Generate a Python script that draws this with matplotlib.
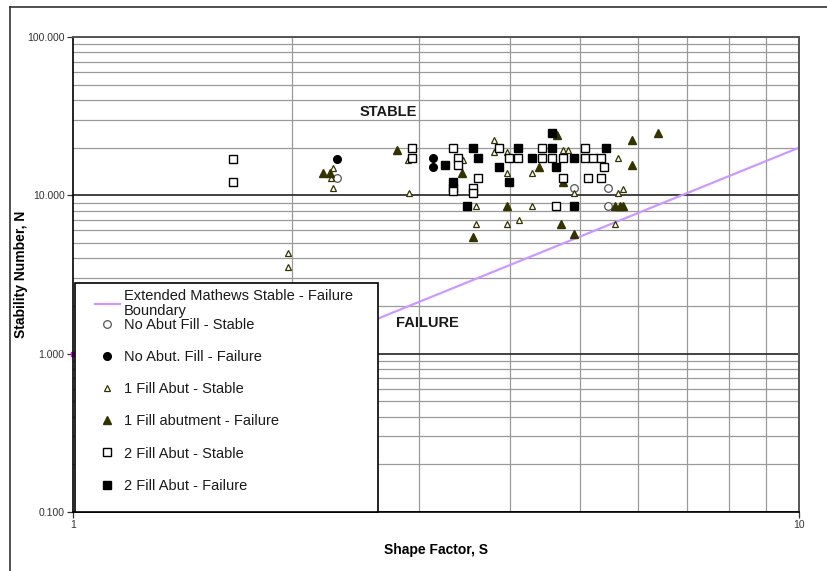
import matplotlib
matplotlib.use("Agg")
import matplotlib.pyplot as plt
from matplotlib.patches import Rectangle
from matplotlib.lines import Line2D
from matplotlib.ticker import FixedLocator, FixedFormatter, NullFormatter

plt.rcParams['font.family'] = ['Liberation Sans', 'DejaVu Sans']

# Extended Mathews stable - failure boundary
boundary_s = [2.0, 10.0]
boundary_n = [1.0, 20.0]

# No abutment fill
no_fill_stable_s = [2.31, 4.90, 5.46, 5.46]
no_fill_stable_n = [12.9, 11.2, 11.2, 8.6]
no_fill_failure_s = [2.31, 3.13, 3.13]
no_fill_failure_n = [16.9, 17.1, 15.0]

# 1 fill abutment
one_fill_stable_s = [1.98, 1.98, 2.28, 2.27, 2.28, 2.89, 2.90, 3.45, 3.59, 3.59, 3.80, 3.80, 3.96,
                     3.96, 3.96, 4.12, 4.29, 4.29, 4.73, 4.80, 4.90, 5.63, 5.63, 5.73, 5.58]
one_fill_stable_n = [4.31, 3.51, 14.8, 12.9, 11.2, 16.7, 10.4, 16.7, 8.6, 6.6, 22.4, 18.7, 18.7,
                     13.9, 6.6, 6.95, 13.9, 8.6, 19.4, 19.4, 10.4, 17.1, 10.4, 11.0, 6.6]
one_fill_failure_s = [2.21, 2.26, 2.79, 3.43, 3.56, 3.96, 4.39, 4.64, 4.73, 4.70, 4.90, 5.58,
                      5.67, 5.73, 5.88, 5.88, 6.39]
one_fill_failure_n = [13.9, 13.9, 19.4, 13.9, 5.43, 8.6, 15.2, 24.0, 12.2, 6.6, 5.7, 8.6,
                      8.6, 8.6, 22.4, 15.6, 24.6]

# 2 fill abutments
two_fill_stable_s = [1.66, 1.66, 2.93, 2.93, 3.34, 3.39, 3.39, 3.34, 3.34, 3.56, 3.56, 3.61, 3.86,
                     3.99, 4.10, 4.42, 4.42, 4.57, 4.73, 4.73, 4.62, 5.08, 5.08, 5.21, 5.33, 5.39,
                     5.12, 5.33]
two_fill_stable_n = [16.9, 12.2, 19.8, 17.1, 19.8, 17.1, 15.6, 11.2, 10.6, 11.2, 10.4, 12.9, 19.8,
                     17.1, 17.1, 19.8, 17.1, 17.1, 17.1, 12.9, 8.6, 19.8, 17.1, 17.1, 17.1, 15.0,
                     12.9, 12.9]
two_fill_failure_s = [3.25, 3.34, 3.49, 3.56, 3.61, 3.86, 3.99, 4.10, 4.29, 4.57, 4.57, 4.62,
                      4.90, 4.90, 5.43]
two_fill_failure_n = [15.6, 12.2, 8.6, 19.8, 17.1, 15.0, 12.2, 19.8, 17.1, 24.6, 19.8, 15.0,
                      17.1, 8.6, 19.8]

y_ticks = [0.1, 1, 10, 100]
x_ticks = [1, 10]

olive = '#333300'

fig = plt.figure(figsize=(8.28, 5.71), dpi=100)
ax = fig.add_axes([73/828, 1 - 512/571, 726/828, 475/571])
ax.set_xscale('log')
ax.set_yscale('log')
ax.set_xlim(1, 10)
ax.set_ylim(0.1, 100)
ax.set_axisbelow(True)

line, = ax.plot(boundary_s, boundary_n, color='#CC99FF', lw=1.6, zorder=2)
h1, = ax.plot(no_fill_stable_s, no_fill_stable_n, 'o', ms=5.5, mfc='white', mec='#555555', mew=0.9, zorder=3)
h2, = ax.plot(no_fill_failure_s, no_fill_failure_n, 'o', ms=5.5, mfc='black', mec='black', zorder=3)
h3, = ax.plot(one_fill_stable_s, one_fill_stable_n, '^', ms=3.8, mfc='white', mec=olive, mew=0.9, zorder=3)
h4, = ax.plot(one_fill_failure_s, one_fill_failure_n, '^', ms=6.2, mfc=olive, mec=olive, zorder=3)
h5, = ax.plot(two_fill_stable_s, two_fill_stable_n, 's', ms=5.5, mfc='white', mec='black', mew=1.0, zorder=3)
h6, = ax.plot(two_fill_failure_s, two_fill_failure_n, 's', ms=5.5, mfc='black', mec='black', zorder=3)

# small magenta point sitting on the axis at (1, 1)
ax.plot([1], [1], 's', ms=2.5, color='#FF00FF', clip_on=False, zorder=1)

# grid
ax.yaxis.set_major_locator(FixedLocator(y_ticks))
ax.yaxis.set_major_formatter(FixedFormatter(['%.3f' % v for v in y_ticks]))
ax.yaxis.set_minor_formatter(NullFormatter())
ax.xaxis.set_major_locator(FixedLocator(x_ticks))
ax.xaxis.set_major_formatter(FixedFormatter(['1', '10']))
ax.xaxis.set_minor_formatter(NullFormatter())
ax.grid(True, which='major', axis='y', color='#333333', lw=1.3)
ax.grid(True, which='minor', axis='both', color='#9a9a9a', lw=0.9)
ax.tick_params(which='major', direction='out', length=4, width=0.9, labelsize=7.5, pad=2, colors='#333333')
ax.tick_params(which='minor', length=0)
for s in ['left', 'bottom']:
    ax.spines[s].set_color('black')
    ax.spines[s].set_linewidth(1.2)
for s in ['top', 'right']:
    ax.spines[s].set_color('#555555')
    ax.spines[s].set_linewidth(1.4)

ax.text(2.72, 33.4, 'STABLE', fontsize=10.5, fontweight='bold', ha='center', va='center', color='#1a1a1a')
ax.text(3.08, 1.56, 'FAILURE', fontsize=10.5, fontweight='bold', ha='center', va='center', color='#1a1a1a')

ax.set_xlabel('Shape Factor, S', fontsize=10, fontweight='bold')
ax.set_ylabel('Stability Number, N', fontsize=10, fontweight='bold')
ax.xaxis.set_label_coords(0.5, -0.065)
ax.yaxis.set_label_coords(-0.062, 0.5)

# legend box
ax.add_patch(Rectangle((0.003, 0), 0.417, 0.482, transform=ax.transAxes, facecolor='white',
                       edgecolor='black', lw=1.2, zorder=5, clip_on=False))
line_label = 'Extended Mathews Stable - Failure\nBoundary'
marker_labels = ['No Abut Fill - Stable', 'No Abut. Fill - Failure', '1 Fill Abut - Stable',
                 '1 Fill abutment - Failure', '2 Fill Abut - Stable', '2 Fill Abut - Failure']

leg1 = ax.legend([line], [line_label], loc='upper left', bbox_to_anchor=(0.03, 0.470),
                 bbox_transform=ax.transAxes, frameon=False, fontsize=10.5, handlelength=1.7,
                 handletextpad=0.3, borderpad=0, borderaxespad=0)
leg1.set_zorder(6)
for t in leg1.get_texts():
    t.set_color('#1a1a1a')
    t.set_linespacing(1.15)
ax.add_artist(leg1)

leg2 = ax.legend([h1, h2, h3, h4, h5, h6], marker_labels, loc='upper left',
                 bbox_to_anchor=(0.03, 0.408), bbox_transform=ax.transAxes, frameon=False,
                 fontsize=10.5, handlelength=1.7, labelspacing=1.24,
                 handletextpad=0.3, borderpad=0, borderaxespad=0, numpoints=1)
leg2.set_zorder(6)
for t in leg2.get_texts():
    t.set_color('#1a1a1a')

# outer frame of the picture
fig.add_artist(Line2D([10/828, 10/828], [0, 1 - 7/571], transform=fig.transFigure, color='#333333', lw=1.2))
fig.add_artist(Line2D([10/828, 1], [1 - 7/571, 1 - 7/571], transform=fig.transFigure, color='#333333', lw=1.2))

fig.savefig('out.png', dpi=100)
